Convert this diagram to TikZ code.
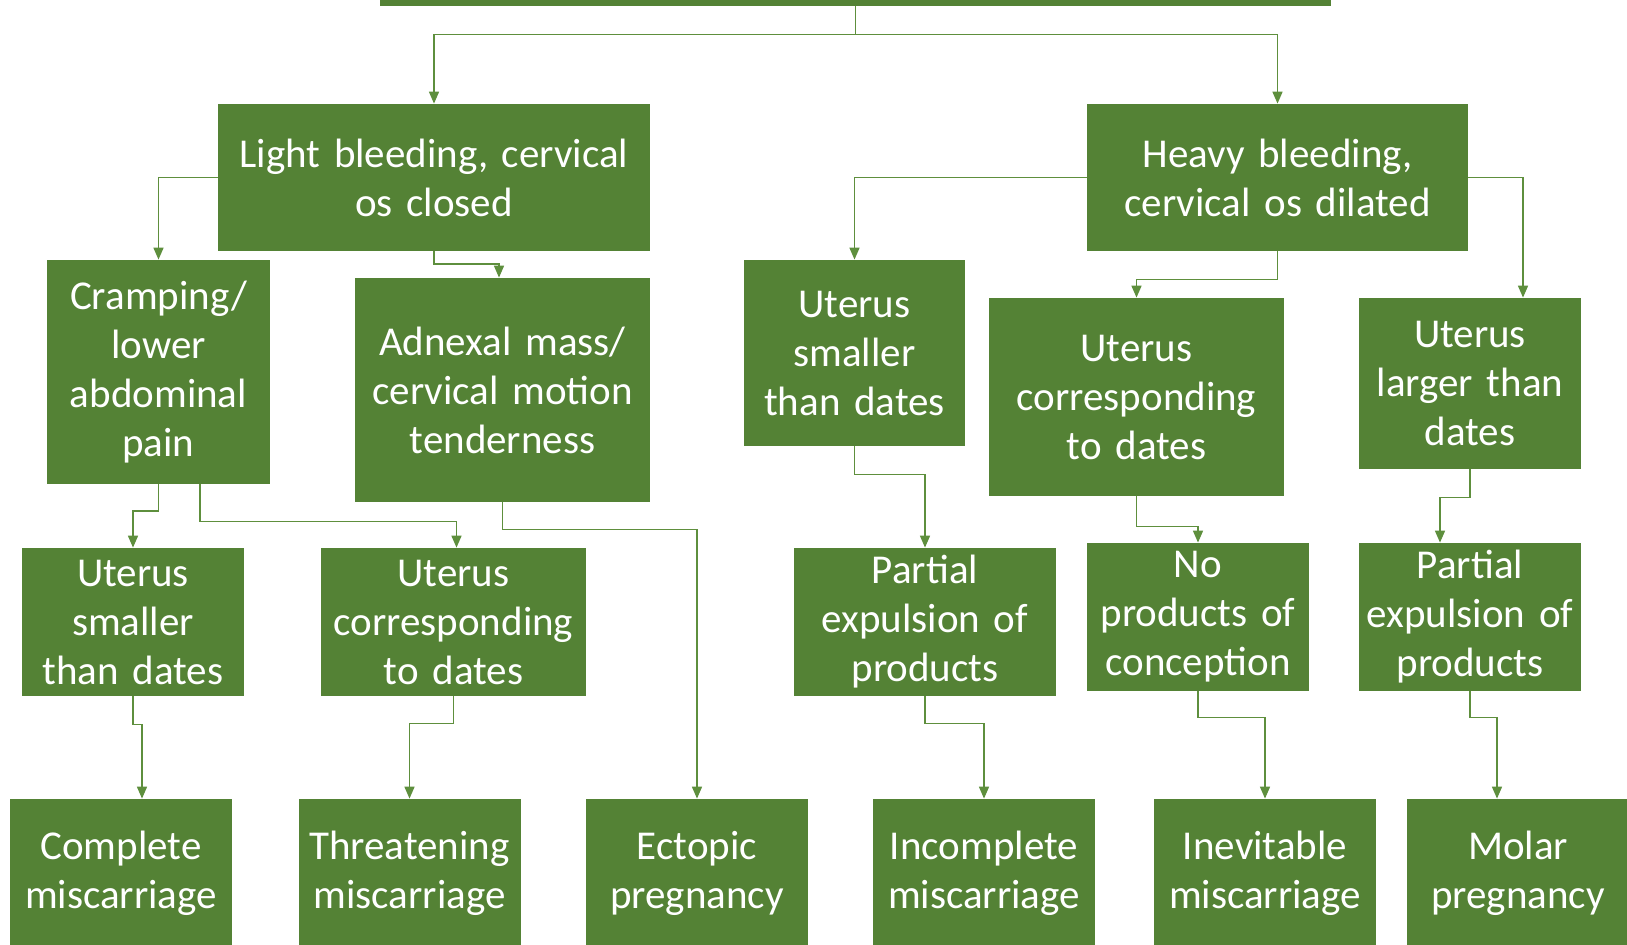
\documentclass[tikz,border=0pt]{standalone}
\usepackage{fontspec}
\setmainfont{Carlito}
\usetikzlibrary{arrows.meta}
\definecolor{boxgreen}{HTML}{548235}
\definecolor{linegreen}{HTML}{5E8F3D}

\begin{document}
\begin{tikzpicture}[x=0.5pt,y=-0.5pt,
    box/.style={fill=boxgreen, text=white, inner sep=0pt, align=center,
      font=\fontsize{20.5pt}{24.5pt}\selectfont},
    conn/.style={draw=linegreen, line width=0.8pt, -{Triangle[width=5pt,length=6pt]}}]
  \useasboundingbox (0,0) rectangle (1627,944);
  \clip (0,0) rectangle (1627,944);

  % top box, cut off by the page edge
  \node[box, minimum width=475.5pt, minimum height=30pt] (top) at (855.5,-24) {};

  % second level
  \node[box, text width=216pt, minimum height=73.5pt] (light) at (434,177.5) {Light bleeding, cervical\\os closed};
  \node[box, text width=190.5pt, minimum height=73.5pt] (heavy) at (1277.5,177.5) {Heavy bleeding,\\cervical os dilated};

  % third level
  \node[box, text width=111.5pt, minimum height=112pt] (cramp) at (158.5,372) {Cramping/\\lower\\abdominal\\pain};
  \node[box, text width=147.5pt, minimum height=112pt] (adnex) at (502.5,390) {Adnexal mass/\\cervical motion\\tenderness};
  \node[box, text width=110.5pt, minimum height=93pt] (smallR) at (854.5,353) {Uterus\\smaller\\than dates};
  \node[box, text width=147.5pt, minimum height=99pt] (corrR) at (1136.5,397) {Uterus\\corresponding\\to dates};
  \node[box, text width=111pt, minimum height=85.5pt] (larger) at (1470,383.5) {Uterus\\larger than\\dates};

  % fourth level
  \node[box, text width=111pt, minimum height=74pt] (smallL) at (133,622) {Uterus\\smaller\\than dates};
  \node[box, text width=132.5pt, minimum height=74pt] (corrL) at (453.5,622) {Uterus\\corresponding\\to dates};
  \node[box, text width=131pt, minimum height=74pt] (partL) at (925,622) {Partial\\expulsion of\\products};
  \node[box, text width=111pt, minimum height=74pt] (noprod) at (1198,617) {No\\products of\\conception};
  \node[box, text width=111pt, minimum height=74pt] (partR) at (1470,617) {Partial\\expulsion of\\products};

  % outcomes
  \foreach \x/\name/\txt in {121/complete/{Complete\\miscarriage},
                             409.5/threat/{Threatening\\miscarriage},
                             697/ectopic/{Ectopic\\pregnancy},
                             984/incompl/{Incomplete\\miscarriage},
                             1265/inevit/{Inevitable\\miscarriage},
                             1518/molar/{Molar\\pregnancy}} {
    \node[box, text width=111pt, minimum height=74pt] (\name) at (\x,873) {\txt};
  }

  % connectors
  \draw[conn] (top.south) -- ++(0,28) -| (light.north);
  \draw[conn] (top.south) -- ++(0,28) -| (heavy.north);
  \draw[conn] (light.west) -| (cramp.north);
  \draw[conn] (light.south) -- ++(0,12.5) -| ([xshift=-1.75pt]adnex.north);
  \draw[conn] (heavy.west) -| (smallR.north);
  \draw[conn] (heavy.south) -- ++(0,28) -| (corrR.north);
  \draw[conn] (heavy.east) -| ([xshift=26.5pt]larger.north);
  \draw[conn] (cramp.south) -- ++(0,26.5) -| (smallL.north);
  \draw[conn] ([xshift=20.75pt]cramp.south) -- ++(0,37) -| ([xshift=1.5pt]corrL.north);
  \draw[conn] (adnex.south) -- ++(0,27) -| (ectopic.north);
  \draw[conn] (smallR.south) -- ++(0,28) -| (partL.north);
  \draw[conn] (corrR.south) -- ++(0,30) -| (noprod.north);
  \draw[conn] (larger.south) -- ++(0,28) -| ([xshift=-15pt]partR.north);
  \draw[conn] (smallL.south) -- ++(0,28) -| ([xshift=10.5pt]complete.north);
  \draw[conn] (corrL.south) -- ++(0,27) -| (threat.north);
  \draw[conn] (partL.south) -- ++(0,27) -| (incompl.north);
  \draw[conn] (noprod.south) -- ++(0,26) -| (inevit.north);
  \draw[conn] (partR.south) -- ++(0,26) -| ([xshift=-10.5pt]molar.north);
\end{tikzpicture}
\end{document}
